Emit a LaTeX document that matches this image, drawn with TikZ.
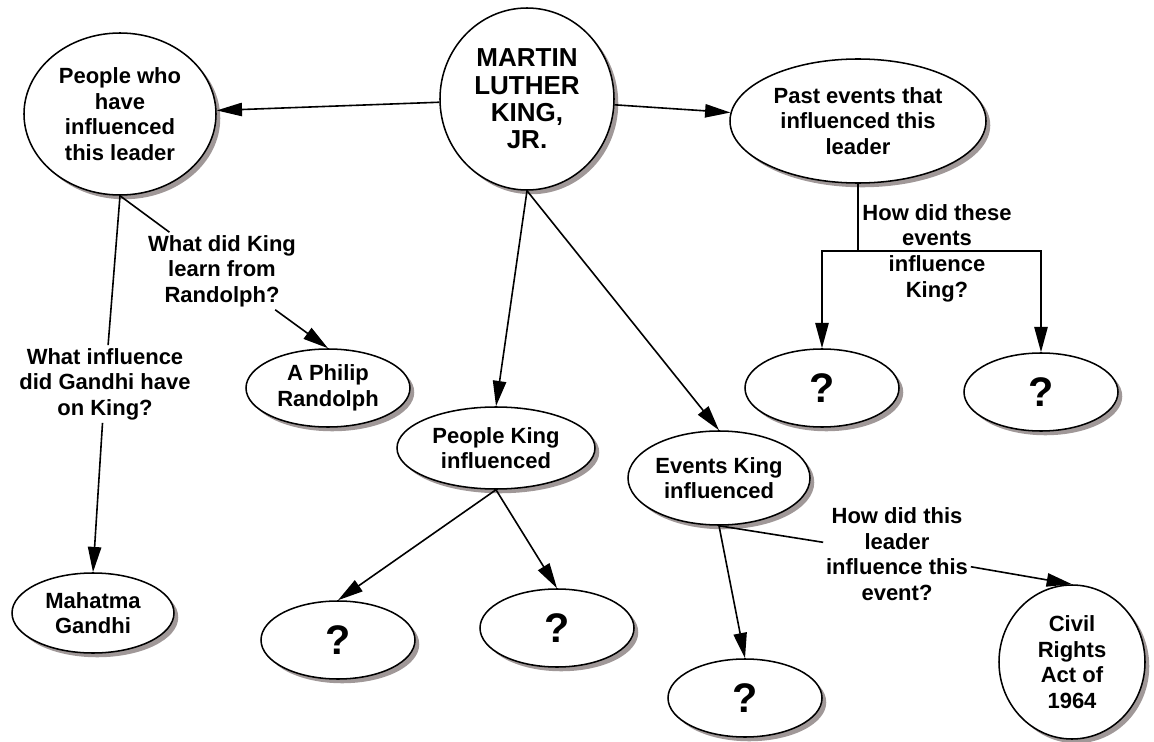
\documentclass[tikz,border=0pt]{standalone}
\usepackage{fontspec}
\setmainfont{Liberation Sans}
\usepackage{tikz}
\usetikzlibrary{shapes.geometric,shadows,arrows.meta}
\definecolor{ink}{HTML}{000000}
\definecolor{shade}{HTML}{A09898}
\tikzset{
  bubble/.style={ellipse, draw=ink, fill=white, line width=1.15pt, inner sep=0pt, align=center,
    font=\fontsize{16.5}{19.2}\selectfont\bfseries,
    drop shadow={shadow xshift=3.2pt, shadow yshift=-3.2pt, fill=shade, opacity=1}},
  qmark/.style={bubble, minimum width=115.5pt, minimum height=58.5pt,
    font=\fontsize{31}{32}\selectfont\bfseries},
  note/.style={align=center, inner sep=2pt, font=\fontsize{16.5}{19.2}\selectfont\bfseries},
  link/.style={draw=ink, line width=1.2pt},
  arr/.style={link, -{Triangle[length=19pt,width=10pt]}}
}

\begin{document}
\begin{tikzpicture}[x=0.75pt, y=-0.75pt]
  \useasboundingbox (0,0) rectangle (1154,742);

  \node[bubble, minimum width=144pt, minimum height=121.5pt] (who) at (120,114)
    {People who\\have\\influenced\\this leader};
  \node[bubble, minimum width=130.5pt, minimum height=136.5pt,
    font=\fontsize{19.5}{20.5}\selectfont\bfseries] (mlk) at (527,99)
    {MARTIN\\LUTHER\\KING,\\JR.};
  \node[bubble, minimum width=192pt, minimum height=93pt] (past) at (858,121)
    {Past events that\\influenced this\\leader};
  \node[bubble, minimum width=123pt, minimum height=58.5pt] (randolph) at (328,388)
    {A Philip\\Randolph};
  \node[bubble, minimum width=121.5pt, minimum height=60pt] (gandhi) at (93,613)
    {Mahatma\\Gandhi};
  \node[bubble, minimum width=148.5pt, minimum height=61.5pt] (pking) at (496,448)
    {People King\\influenced};
  \node[bubble, minimum width=136.5pt, minimum height=70.5pt] (eking) at (719,478)
    {Events King\\influenced};
  \node[bubble, minimum width=109.5pt, minimum height=115.5pt] (civil) at (1072,662)
    {Civil\\Rights\\Act of\\1964};

  \node[qmark] (q1) at (822,388) {?};
  \node[qmark] (q2) at (1041,392) {?};
  \node[qmark] (q3) at (338,640) {?};
  \node[qmark] (q4) at (557,628) {?};
  \node[qmark] (q5) at (745,698) {?};

  \node[note] (rq) at (222,271) {What did King\\learn from\\Randolph?};
  \node[note] (gq) at (105,384) {What influence\\did Gandhi have\\on King?};
  \node[note] (pq) at (937,253) {How did these\\events\\influence\\King?};
  \node[note] (lq) at (897,554) {How did this\\leader\\influence this\\event?};

  \draw[arr] (mlk) -- (who);
  \draw[arr] (mlk) -- (past);
  \draw[arr] (mlk.south) -- (pking.north);
  \draw[arr] (mlk.south) -- (eking.north);

  \draw[link] (who.south) -- (rq);
  \draw[arr] (rq) -- (randolph.north);
  \draw[link] (who.south) -- (gq);
  \draw[arr] (gq) -- (gandhi.north);

  \coordinate (fork) at (858,251);
  \draw[link] (past.south) -- (fork);
  \draw[arr] (fork) -| (q1.north);
  \draw[arr] (fork) -| (q2.north);

  \draw[arr] (pking.south) -- (q3.north);
  \draw[arr] (pking.south) -- (q4.north);

  \draw[arr] (eking.south) -- (q5.north);
  \draw[link] (eking.south) -- (lq);
  \draw[arr] (lq) -- (civil.north);
\end{tikzpicture}
\end{document}
